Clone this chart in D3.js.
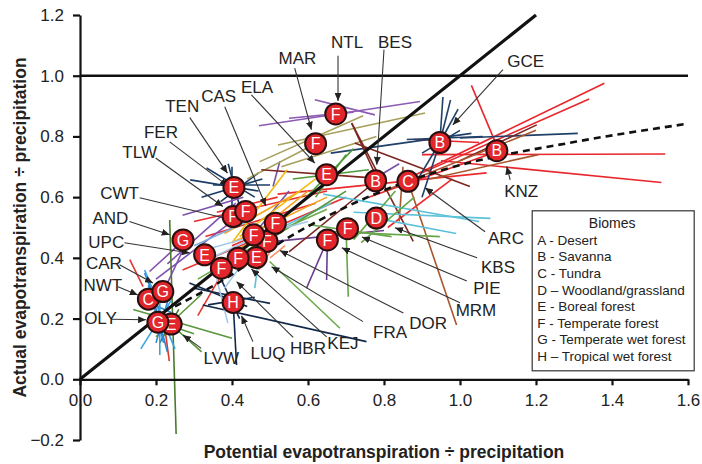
<!DOCTYPE html>
<html>
<head>
<meta charset="utf-8">
<script src="https://cdn.jsdelivr.net/npm/d3@7"></script>
<style>
body { margin: 0; background: #fff; }
svg { display: block; font-family: "Liberation Sans", Arial, sans-serif; }
</style>
</head>
<body>
<div id="chart"></div>
<script>
// axis ticks
const xTicks = [0, 0.2, 0.4, 0.6, 0.8, 1.0, 1.2, 1.4, 1.6];
const yTicks = [-0.2, 0, 0.2, 0.4, 0.6, 0.8, 1.0, 1.2];

// sites: code, biome letter, mean PET/P, mean AET/P (draw order = list order)
const siteCodes = ["NTL","MAR","ELA","BES","ARC","GCE","KNZ","KBS","PIE","MRM","DOR","FRA","KEJ","HBR","LUQ","TEN","TLW","FER","CWT","CAS","AND","UPC","NWT","CAR","LVW","OLY"];
const siteBiome = ["F","F","E","B","C","B","B","D","F","F","F","E","F","F","H","E","F","F","F","F","G","E","C","G","E","G"];
const siteX = [0.673,0.620,0.649,0.778,0.863,0.947,1.097,0.780,0.704,0.651,0.492,0.464,0.416,0.372,0.403,0.405,0.403,0.436,0.457,0.514,0.271,0.328,0.180,0.218,0.240,0.205];
const siteY = [0.874,0.776,0.674,0.654,0.652,0.780,0.753,0.531,0.496,0.459,0.454,0.401,0.399,0.366,0.253,0.632,0.536,0.553,0.476,0.514,0.459,0.410,0.264,0.289,0.182,0.188];

// label text position, arrow start and arrow tip (data units)
const labelPos = {
  NTL: [0.703,1.110, 0.679,1.066, 0.679,0.917],
  BES: [0.829,1.110, 0.800,1.086, 0.781,0.707],
  MAR: [0.572,1.058, 0.565,1.025, 0.609,0.822],
  ELA: [0.466,0.963, 0.451,0.937, 0.618,0.712],
  CAS: [0.365,0.932, 0.381,0.898, 0.489,0.571],
  TEN: [0.269,0.901, 0.289,0.862, 0.388,0.679],
  FER: [0.213,0.816, 0.236,0.782, 0.389,0.637],
  TLW: [0.157,0.750, 0.199,0.729, 0.376,0.569],
  CWT: [0.104,0.613, 0.157,0.598, 0.410,0.522],
  AND: [0.080,0.531, 0.130,0.520, 0.236,0.476],
  UPC: [0.069,0.454, 0.117,0.450, 0.289,0.416],
  CAR: [0.063,0.384, 0.104,0.377, 0.192,0.317],
  NWT: [0.060,0.311, 0.100,0.305, 0.152,0.278],
  OLY: [0.054,0.201, 0.082,0.198, 0.174,0.196],
  LVW: [0.372,0.071, 0.319,0.102, 0.271,0.146],
  LUQ: [0.495,0.086, 0.455,0.124, 0.425,0.209],
  HBR: [0.600,0.102, 0.561,0.138, 0.412,0.322],
  KEJ: [0.692,0.119, 0.649,0.140, 0.451,0.363],
  FRA: [0.816,0.157, 0.745,0.190, 0.504,0.371],
  DOR: [0.916,0.185, 0.851,0.218, 0.526,0.424],
  MRM: [1.042,0.228, 1.000,0.252, 0.689,0.433],
  PIE: [1.071,0.300, 1.018,0.324, 0.742,0.469],
  KBS: [1.100,0.371, 1.045,0.400, 0.829,0.499],
  ARC: [1.121,0.465, 1.066,0.486, 0.908,0.631],
  KNZ: [1.161,0.619, 1.132,0.657, 1.123,0.701],
  GCE: [1.173,1.049, 1.113,1.020, 0.981,0.838]
};

// trajectories: site, x1, y1, x2, y2
const trails = [
  ["KNZ",0.95,0.72,1.53,0.648],["KNZ",0.90,0.74,1.54,0.742],["KNZ",0.86,0.66,1.38,0.975],
  ["KNZ",0.90,0.68,1.34,0.923],["KNZ",1.03,0.968,1.10,0.76],["KNZ",0.76,0.60,1.12,0.76],
  ["KNZ",0.88,0.79,1.05,0.78],
  ["TLW",0.52,0.61,1.07,0.68],["TLW",0.81,0.50,0.98,0.66],["TLW",0.30,0.52,0.65,0.62],
  ["TLW",0.33,0.47,0.62,0.58],["TLW",0.36,0.55,0.52,0.60],["TLW",0.40,0.44,0.70,0.60],
  ["CAR",0.131,0.394,0.166,0.305],["CAR",0.22,0.20,0.235,0.06],["CAR",0.31,0.21,0.37,0.34],
  ["CAR",0.27,0.36,0.46,0.46],
  ["GCE",0.955,0.93,0.947,0.78],["GCE",0.975,0.92,0.947,0.78],["GCE",0.995,0.89,0.947,0.78],
  ["GCE",0.86,0.79,1.06,0.80],["GCE",1.0,0.795,1.31,0.81],["GCE",0.947,0.78,0.87,0.62],
  ["GCE",0.947,0.78,0.90,0.60],["GCE",0.66,0.745,1.03,0.81],["GCE",0.90,0.745,1.00,0.82],
  ["TEN",0.29,0.657,0.47,0.62],["TEN",0.333,0.696,0.46,0.60],["TEN",0.32,0.60,0.48,0.66],
  ["TEN",0.39,0.71,0.42,0.57],["TEN",0.35,0.64,0.50,0.64],["TEN",0.37,0.585,0.47,0.68],
  ["TEN",0.40,0.70,0.40,0.57],
  ["LUQ",0.323,0.245,0.754,0.124],["LUQ",0.403,0.253,0.412,0.047],["LUQ",0.288,0.317,0.44,0.24],
  ["LUQ",0.337,0.245,0.46,0.27],["LUQ",0.36,0.36,0.42,0.20],["LUQ",0.30,0.30,0.50,0.25],
  ["NTL",0.471,0.835,0.895,0.915],["NTL",0.618,0.921,0.776,0.871],["NTL",0.55,0.86,0.72,0.88],
  ["MRM",0.651,0.459,0.596,0.30],["MRM",0.651,0.459,0.649,0.327],["MRM",0.52,0.455,0.80,0.49],
  ["UPC",0.183,0.355,0.289,0.476],["UPC",0.20,0.33,0.40,0.52],["UPC",0.23,0.38,0.41,0.58],
  ["UPC",0.22,0.29,0.28,0.45],["UPC",0.27,0.54,0.43,0.60],
  ["DOR",0.508,0.635,0.526,0.718],["DOR",0.44,0.45,0.55,0.62],["DOR",0.76,0.65,0.84,0.71],
  ["MAR",0.473,0.717,0.745,0.868],["MAR",0.521,0.772,0.908,0.877],["MAR",0.53,0.70,0.78,0.80],
  ["MAR",0.44,0.66,0.62,0.776],
  ["BES",0.715,0.844,0.877,0.454],["BES",0.477,0.69,0.75,0.665],["BES",0.723,0.778,1.026,0.635],
  ["BES",0.715,0.844,0.79,0.64],["BES",1.0,0.72,1.202,0.838],["BES",0.55,0.42,0.78,0.654],
  ["ARC",0.863,0.652,0.991,0.179],["ARC",0.92,0.66,1.206,0.74],["ARC",0.80,0.62,1.20,0.82],
  ["ARC",0.85,0.70,0.84,0.52],
  ["KBS",0.64,0.61,1.05,0.52],["KBS",0.72,0.55,1.08,0.53],["KBS",0.78,0.53,0.99,0.48],
  ["KBS",0.45,0.45,0.66,0.58],["KBS",0.46,0.30,0.47,0.40],
  ["ELA",0.58,0.58,0.72,0.76],["ELA",0.62,0.60,0.70,0.74],["ELA",0.56,0.66,0.76,0.69],
  ["ELA",0.36,0.35,0.70,0.62],
  ["PIE",0.70,0.498,0.706,0.272],["PIE",0.666,0.487,0.947,0.47],["PIE",0.60,0.51,0.82,0.47],
  ["PIE",0.72,0.46,0.83,0.62],["PIE",0.74,0.45,0.88,0.60],
  ["FRA",0.499,0.388,0.684,0.168],["FRA",0.40,0.42,0.65,0.56],["FRA",0.31,0.33,0.50,0.47],
  ["LVW",0.14,0.23,0.40,0.135],["LVW",0.20,0.14,0.32,0.28],["LVW",0.24,0.18,0.32,0.09],
  ["LVW",0.18,0.20,0.30,0.15],
  ["AND",0.236,0.525,0.253,-0.18],["AND",0.21,0.12,0.26,0.23],
  ["CWT",0.40,0.45,0.65,0.60],["CWT",0.44,0.46,0.60,0.62],["CWT",0.38,0.48,0.58,0.62],
  ["CWT",0.42,0.43,0.52,0.50],
  ["CAS",0.40,0.45,0.545,0.69],["CAS",0.42,0.47,0.62,0.66],
  ["HBR",0.31,0.42,0.60,0.52],["HBR",0.38,0.30,0.45,0.42],["HBR",0.389,0.185,0.36,0.33],
  ["HBR",0.33,0.39,0.48,0.48],
  ["KEJ",0.30,0.44,0.44,0.52],
  ["FER",0.44,0.38,0.48,0.43],["FER",0.47,0.36,0.50,0.42],["FER",0.38,0.52,0.42,0.56],
  ["FER",0.50,0.40,0.54,0.44],
  ["NWT",0.17,0.35,0.23,0.16],["NWT",0.18,0.31,0.22,0.12],["NWT",0.19,0.28,0.23,0.09],
  ["NWT",0.15,0.27,0.24,0.22],["NWT",0.24,0.30,0.20,0.12],
  ["OLY",0.17,0.36,0.19,0.30],["OLY",0.21,0.30,0.21,0.08],["OLY",0.16,0.10,0.24,0.26],
  ["OLY",0.25,0.10,0.20,0.25]
];

// fitted curve (dashed)
const curveX = [0.25, 0.34, 0.58, 0.815, 0.956, 1.307, 1.6];
const curveY = [0.24, 0.30, 0.49, 0.63, 0.69, 0.783, 0.842];

const biomeLegend = [
  "A - Desert", "B - Savanna", "C - Tundra", "D \u2013 Woodland/grassland",
  "E - Boreal forest", "F - Temperate forest", "G - Temperate wet forest", "H \u2013 Tropical wet forest"
];

const width = 702, height = 464;
const margin = { top: 15, right: 14, bottom: 24, left: 80 };

const x = d3.scaleLinear().domain([0, 1.6]).range([margin.left, width - margin.right]);
const y = d3.scaleLinear().domain([-0.2, 1.2]).range([height - margin.bottom, margin.top]);

const trailColor = d3.scaleOrdinal()
  .domain(["KNZ","TLW","CAR","GCE","TEN","LUQ","NTL","MRM","UPC","DOR","MAR","BES","ARC","KBS","ELA","PIE","FRA","LVW","AND","CWT","CAS","HBR","KEJ","FER","NWT","OLY"])
  .range(["#e8262b","#ea2b2e","#e03a30","#1f4068","#1c3d66","#12294a","#8c5bb4","#6b3d8e","#7f50b0","#7552a6","#a5a05c","#7d2620","#a9562e","#5cc2da","#4f9a3a","#66a64a","#6cab4c","#5a973c","#4a7b2c","#f5a11c","#f2bd10","#a3c8ea","#7fb0e0","#f4956a","#2b86cf","#3aa3e2"]);

const svg = d3.select("#chart").append("svg")
  .attr("width", width)
  .attr("height", height);

svg.append("defs").append("marker")
  .attr("id", "arrow")
  .attr("viewBox", "0 0 8 7")
  .attr("refX", 8).attr("refY", 3.5)
  .attr("markerWidth", 8).attr("markerHeight", 7)
  .attr("markerUnits", "userSpaceOnUse")
  .attr("orient", "auto")
  .append("path")
  .attr("d", "M0,0L8,3.5L0,7Z")
  .attr("fill", "#222");

// trajectories
svg.append("g")
  .selectAll("line")
  .data(trails)
  .join("line")
  .attr("x1", d => x(d[1])).attr("y1", d => y(d[2]))
  .attr("x2", d => x(d[3])).attr("y2", d => y(d[4]))
  .attr("stroke", d => trailColor(d[0]))
  .attr("stroke-width", 1.6);

// axes
const yAxis = svg.append("g")
  .attr("transform", `translate(${x(0)},0)`)
  .call(d3.axisLeft(y).tickValues(yTicks).tickSize(7).tickSizeOuter(0).tickPadding(9).tickFormat(d3.format(".1f")));
const xAxis = svg.append("g")
  .attr("transform", `translate(0,${y(0)})`)
  .call(d3.axisBottom(x).tickValues(xTicks).tickSize(6).tickSizeOuter(0).tickPadding(9).tickFormat(d3.format(".1f")));
[xAxis, yAxis].forEach(a => {
  a.selectAll("path, line").attr("stroke", "#111").attr("stroke-width", 2.2);
  a.selectAll("text").attr("font-size", 17).attr("fill", "#222").attr("font-family", "Liberation Sans, Arial, sans-serif");
});

// reference lines
svg.append("line")
  .attr("x1", x(0)).attr("y1", y(1)).attr("x2", x(1.6)).attr("y2", y(1))
  .attr("stroke", "#111").attr("stroke-width", 2.6);
svg.append("line")
  .attr("x1", x(0)).attr("y1", y(0)).attr("x2", x(1.2)).attr("y2", y(1.2))
  .attr("stroke", "#111").attr("stroke-width", 3.2);
svg.append("path")
  .datum(d3.zip(curveX, curveY))
  .attr("d", d3.line().x(d => x(d[0])).y(d => y(d[1])).curve(d3.curveMonotoneX))
  .attr("fill", "none")
  .attr("stroke", "#111")
  .attr("stroke-width", 2.6)
  .attr("stroke-dasharray", "7,5");

// label arrows
const labels = siteCodes.map(c => ({ code: c, p: labelPos[c] }));
svg.append("g")
  .selectAll("line")
  .data(labels)
  .join("line")
  .attr("x1", d => x(d.p[2])).attr("y1", d => y(d.p[3]))
  .attr("x2", d => x(d.p[4])).attr("y2", d => y(d.p[5]))
  .attr("stroke", "#333")
  .attr("stroke-width", 1.1)
  .attr("marker-end", "url(#arrow)");

// site circles
const sites = siteCodes.map((c, i) => ({ code: c, biome: siteBiome[i], x: siteX[i], y: siteY[i] }));
const node = svg.append("g")
  .selectAll("g")
  .data(sites)
  .join("g")
  .attr("transform", d => `translate(${x(d.x)},${y(d.y)})`);
node.append("circle")
  .attr("r", 10.5)
  .attr("fill", "#e3262b")
  .attr("stroke", "#2a0f0f")
  .attr("stroke-width", 2);
node.append("text")
  .attr("text-anchor", "middle")
  .attr("dy", "0.36em")
  .attr("font-size", 16)
  .attr("fill", "#fff")
  .text(d => d.biome);

// site labels
svg.append("g")
  .selectAll("text")
  .data(labels)
  .join("text")
  .attr("x", d => x(d.p[0]))
  .attr("y", d => y(d.p[1]))
  .attr("dy", "0.36em")
  .attr("text-anchor", "middle")
  .attr("font-size", 17)
  .attr("fill", "#222")
  .text(d => d.code);

// legend
const legend = svg.append("g").attr("transform", `translate(${x(1.19)},${y(0.555)})`);
legend.append("rect")
  .attr("width", 162).attr("height", 160)
  .attr("fill", "#fff").attr("stroke", "#333").attr("stroke-width", 1.2);
legend.append("text")
  .attr("x", 80).attr("y", 17)
  .attr("text-anchor", "middle")
  .attr("font-size", 14)
  .attr("fill", "#222")
  .text("Biomes");
legend.selectAll("text.item")
  .data(biomeLegend)
  .join("text")
  .attr("class", "item")
  .attr("x", 5)
  .attr("y", (d, i) => 34 + i * 16.6)
  .attr("font-size", 13.5)
  .attr("fill", "#222")
  .text(d => d);

// axis titles
svg.append("text")
  .attr("x", x(0.8)).attr("y", 458)
  .attr("text-anchor", "middle")
  .attr("font-size", 17.5)
  .attr("font-weight", "bold")
  .attr("fill", "#222")
  .text("Potential evapotranspiration \u00f7 precipitation");
svg.append("text")
  .attr("transform", `translate(26,${y(0.5)}) rotate(-90)`)
  .attr("text-anchor", "middle")
  .attr("font-size", 17.5)
  .attr("font-weight", "bold")
  .attr("fill", "#222")
  .text("Actual evapotranspiration \u00f7 precipitation");
</script>
</body>
</html>
